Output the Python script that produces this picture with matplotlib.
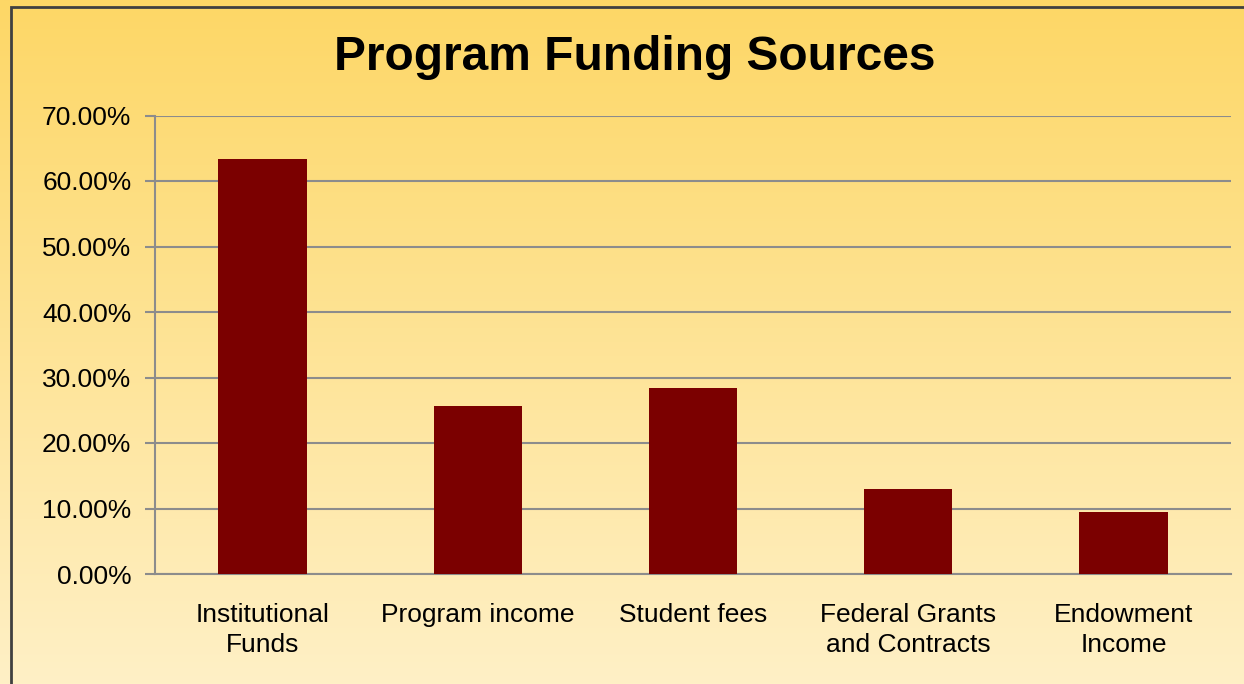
import numpy as np
import matplotlib.pyplot as plt
from matplotlib.colors import LinearSegmentedColormap
from matplotlib.patches import Rectangle
from matplotlib.ticker import FuncFormatter

## chart data
categories = ["Institutional\nFunds", "Program income", "Student fees",
              "Federal Grants\nand Contracts", "Endowment\nIncome"]
shares = [63.4, 25.6, 28.4, 13.0, 9.5]  ## percent
yticks = [0, 10, 20, 30, 40, 50, 60, 70]

plt.rcParams['font.family'] = ['Liberation Sans', 'DejaVu Sans']

fig = plt.figure(figsize=(12.44, 6.84), dpi=100)

## gradient background: gold at top, cream at bottom
bg = fig.add_axes([0, 0, 1, 1], zorder=-10)
grad = np.linspace(0, 1, 256).reshape(-1, 1)
cmap = LinearSegmentedColormap.from_list("bg", ["#FDD766", "#FFF0C6"])
bg.imshow(grad, aspect='auto', cmap=cmap, extent=[0, 1, 0, 1], origin='upper')
bg.set_xlim(0, 1)
bg.set_ylim(0, 1)
bg.axis('off')

## frame border (left and top visible, right/bottom off image)
W, H = 1244, 684
bg.add_patch(Rectangle((11 / W, -0.1), 1.2, 1 - 6.5 / H + 0.1, transform=bg.transAxes,
                       fill=False, edgecolor="#404040", linewidth=2))

ax = fig.add_axes([155 / W, 1 - 574 / H, (1231 - 155) / W, (574 - 115.5) / H])
ax.set_facecolor('none')

x = np.arange(len(categories))
ax.bar(x, shares, width=0.41, color="#7B0000", zorder=3)

ax.set_xlim(-0.5, len(categories) - 0.5)
ax.set_ylim(0, 70)
ax.set_yticks(yticks)
ax.yaxis.set_major_formatter(FuncFormatter(lambda v, p: "%.2f%%" % v))
ax.yaxis.grid(True, color="#8C8C8C", linewidth=1.5, zorder=0)
ax.set_xticks(x)
ax.set_xticklabels(categories, fontsize=19, linespacing=1.3)
ax.tick_params(axis='x', length=0, pad=21)
ax.tick_params(axis='y', labelsize=19, length=7, width=1.5, color="#8C8C8C", pad=10)

for s in ['top', 'right']:
    ax.spines[s].set_visible(False)
ax.spines['left'].set_color("#8C8C8C")
ax.spines['left'].set_linewidth(1.5)
ax.spines['bottom'].set_color("#8C8C8C")
ax.spines['bottom'].set_linewidth(1.5)

fig.text(635 / W, 1 - 57 / H, "Program Funding Sources", fontsize=34.5,
         fontweight='bold', ha='center', va='center')

plt.savefig("out.png", dpi=100)
